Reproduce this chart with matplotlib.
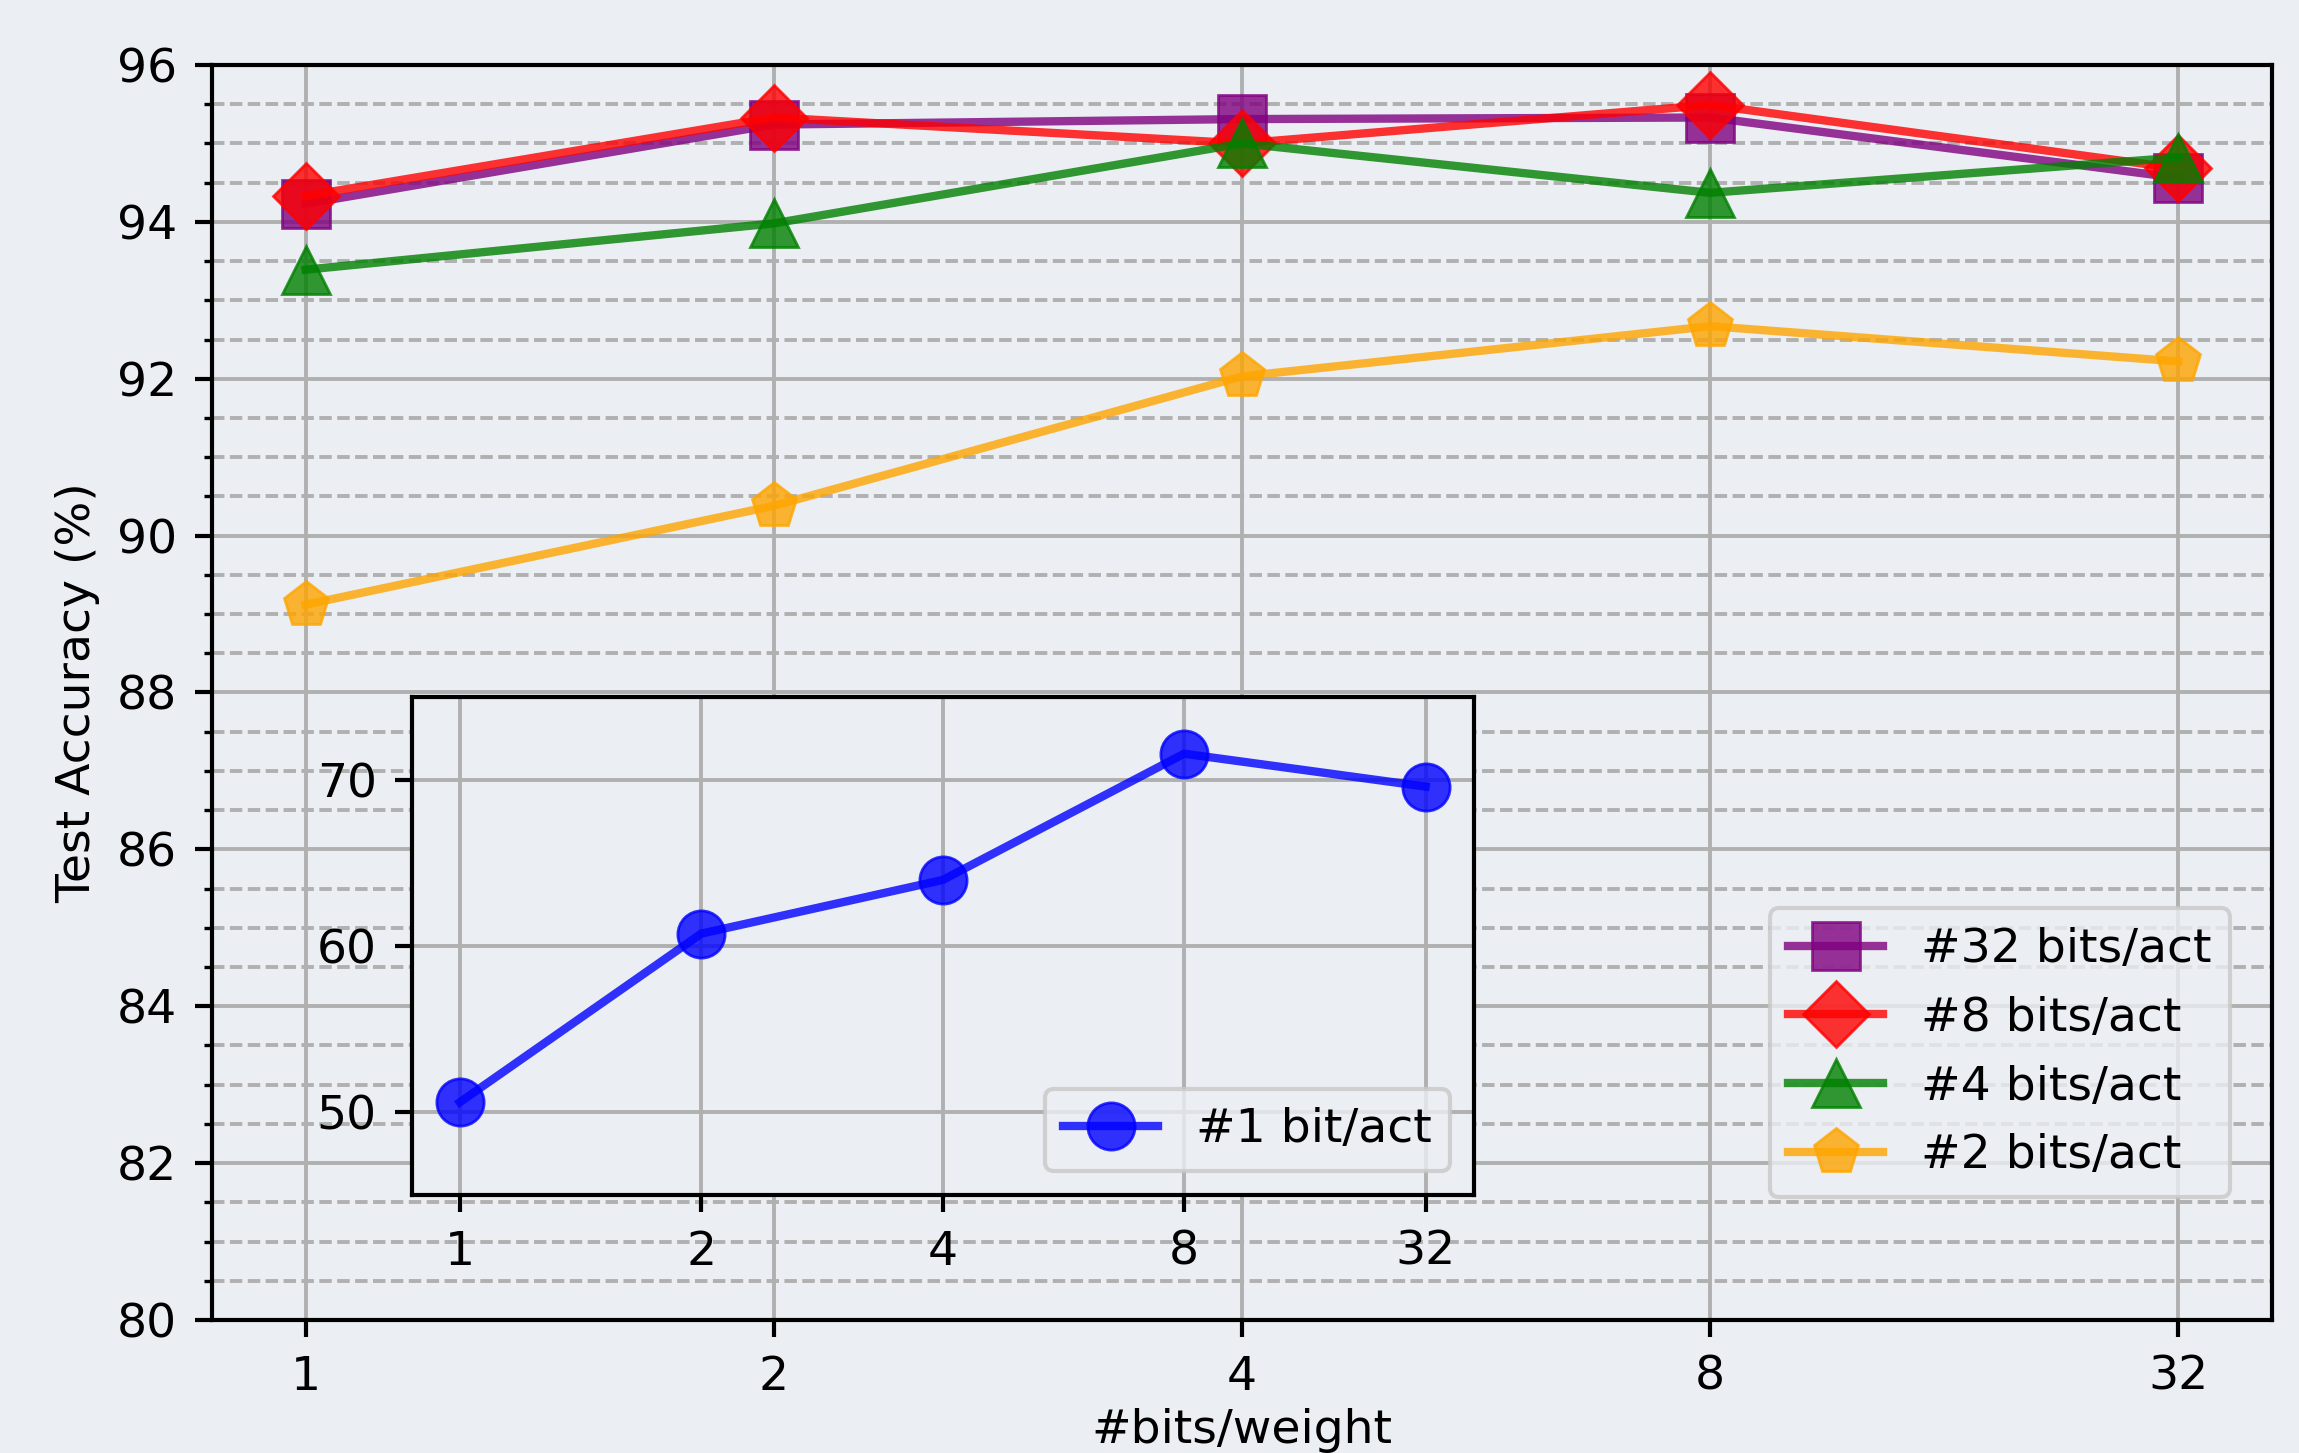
import matplotlib
matplotlib.use("Agg")
import matplotlib.pyplot as plt
from matplotlib.ticker import MultipleLocator

# Bits per weight (categorical x positions)
weight_bits = ["1", "2", "4", "8", "32"]

# Test accuracy (%) for each activation precision
acc_32bit_act = [94.23, 95.24, 95.31, 95.33, 94.56]
acc_8bit_act = [94.33, 95.33, 95.00, 95.49, 94.68]
acc_4bit_act = [93.39, 93.98, 95.00, 94.37, 94.82]
acc_2bit_act = [89.12, 90.38, 92.03, 92.67, 92.22]
acc_1bit_act = [50.58, 60.73, 63.96, 71.56, 69.58]

main_yticks = [80, 82, 84, 86, 88, 90, 92, 94, 96]
inset_yticks = [50, 60, 70]

BG = "#EBEEF3"
GRID = "#b0b0b0"
FS = 17

plt.rcParams["font.family"] = ["DejaVu Sans"]
plt.rcParams["font.size"] = FS

fig = plt.figure(figsize=(2299 / 200, 1453 / 200), dpi=200, facecolor=BG)
ax = fig.add_axes([0.0922, 0.0915, 0.8961, 0.8638], facecolor=BG)

x = list(range(len(weight_bits)))
series = [
    (acc_32bit_act, "purple", "s", "#32 bits/act"),
    (acc_8bit_act, "red", "D", "#8 bits/act"),
    (acc_4bit_act, "green", "^", "#4 bits/act"),
    (acc_2bit_act, "orange", "p", "#2 bits/act"),
]
for vals, col, mk, lab in series:
    ax.plot(x, vals, color=col, marker=mk, markersize=17, linewidth=3,
            alpha=0.8, label=lab)

ax.set_xlim(-0.2, 4.2)
ax.set_ylim(80, 96)
ax.set_xticks(x)
ax.set_xticklabels(weight_bits)
ax.set_yticks(main_yticks)
ax.yaxis.set_minor_locator(MultipleLocator(0.5))
ax.set_axisbelow(True)
ax.grid(which="major", color=GRID, linewidth=1.4, linestyle="-")
ax.grid(which="minor", axis="y", color=GRID, linewidth=1.4, linestyle="--",
        dashes=(3.2, 1.4))
for s in ax.spines.values():
    s.set_color("black")
    s.set_linewidth(1.5)
ax.tick_params(which="major", length=6, width=1.5, pad=6.5, labelsize=FS)
ax.tick_params(axis="y", which="minor", length=3, width=1.2)
ax.set_xlabel("#bits/weight", fontsize=FS, labelpad=3)
ax.set_ylabel("Test Accuracy (%)", fontsize=FS, labelpad=6)

leg = ax.legend(loc="lower right", bbox_to_anchor=(0.9796, 0.098),
                borderaxespad=0, fontsize=FS, facecolor=BG, edgecolor="#c8c8c8",
                framealpha=0.8)
leg.get_frame().set_linewidth(1.5)

# Inset with the 1-bit activation curve
ins = fig.add_axes([0.179, 0.1776, 0.4621, 0.343], facecolor=BG)
ins.plot(x, acc_1bit_act, color="blue", marker="o", markersize=17,
         linewidth=3, alpha=0.8, label="#1 bit/act")
ins.set_xlim(-0.2, 4.2)
ins.set_ylim(45, 75)
ins.set_xticks(x)
ins.set_xticklabels(weight_bits)
ins.set_yticks(inset_yticks)
ins.set_axisbelow(True)
ins.grid(which="major", color=GRID, linewidth=1.4, linestyle="-")
for s in ins.spines.values():
    s.set_color("black")
    s.set_linewidth(1.5)
ins.tick_params(which="major", length=6, width=1.5, pad=6.5, labelsize=FS)
ileg = ins.legend(loc="lower right", fontsize=FS, facecolor=BG,
                  edgecolor="#c8c8c8", framealpha=0.8)
ileg.get_frame().set_linewidth(1.5)

fig.savefig("out.png", dpi=200, facecolor=BG)
